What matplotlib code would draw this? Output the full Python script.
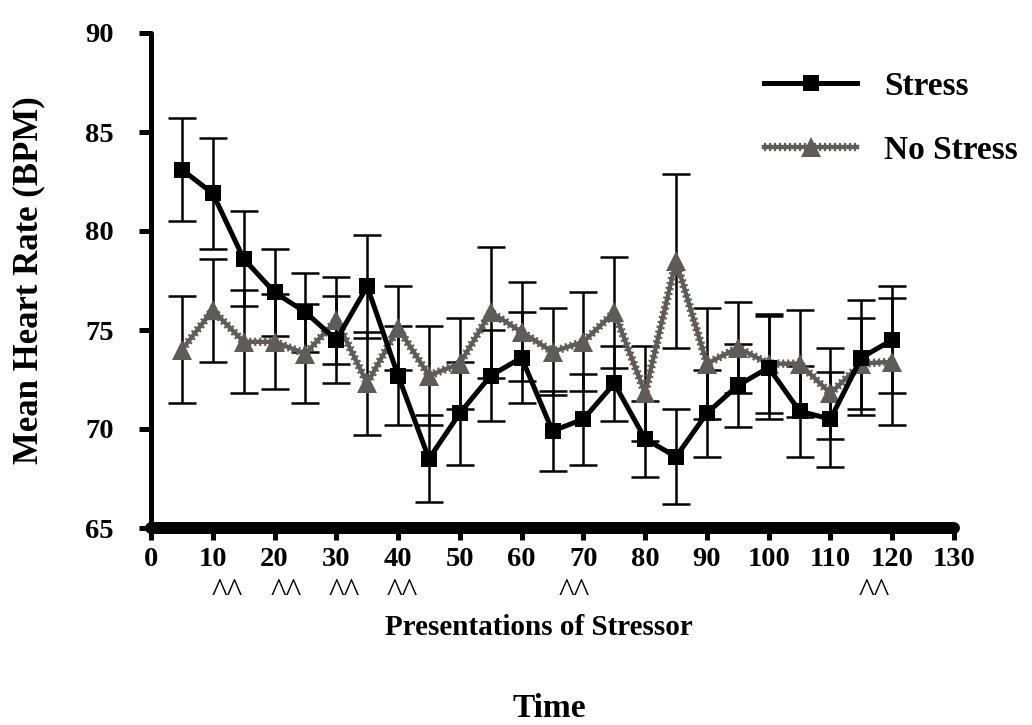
#!/usr/bin/env python
# -*- coding: utf-8 -*-

'''
    Mean heart rate across presentations of a stressor,
    Stress vs No Stress groups with standard error bars.
'''

import matplotlib
matplotlib.use("Agg")
import matplotlib.pyplot as plt
from matplotlib.legend_handler import HandlerTuple
from matplotlib import transforms

# ---------------------------------------------------------------------------
# Data
# ---------------------------------------------------------------------------
presentations = [5, 10, 15, 20, 25, 30, 35, 40, 45, 50, 55, 60,
                 65, 70, 75, 80, 85, 90, 95, 100, 105, 110, 115, 120]

stress = [83.1, 81.9, 78.6, 76.9, 75.9, 74.5, 77.2, 72.7, 68.5, 70.8, 72.7, 73.6,
          69.9, 70.5, 72.3, 69.5, 68.6, 70.8, 72.2, 73.1, 70.9, 70.5, 73.6, 74.5]
stress_se = [2.6, 2.8, 2.4, 2.2, 2.0, 2.2, 2.6, 2.5, 2.2, 2.6, 2.3, 2.3,
             2.0, 2.3, 1.9, 1.9, 2.4, 2.2, 2.1, 2.6, 2.3, 2.4, 2.9, 2.7]

no_stress = [74.0, 76.0, 74.4, 74.4, 73.8, 75.5, 72.3, 75.1, 72.7, 73.3, 75.9, 74.9,
             73.9, 74.4, 75.9, 71.8, 78.5, 73.3, 74.1, 73.3, 73.3, 71.8, 73.3, 73.4]
no_stress_se = [2.7, 2.6, 2.6, 2.4, 2.5, 2.2, 2.6, 2.1, 2.5, 2.3, 3.3, 2.5,
                2.2, 2.5, 2.8, 2.4, 4.4, 2.8, 2.3, 2.5, 2.7, 2.3, 2.3, 3.2]

x_ticks = list(range(0, 131, 10))
y_ticks = [65, 70, 75, 80, 85, 90]

# significance marks ("^^") under the x axis
caret_x = [12.3, 21.9, 31.2, 40.6, 68.5, 117.0]
caret_label = "^^"

GREY = "#5f5b5b"
FONT = "Liberation Serif"


def main():

    plt.rcParams['font.family'] = [FONT, 'DejaVu Serif']

    fig = plt.figure(figsize=(10.32, 7.25), dpi=100)
    ax = fig.add_axes([151 / 1032, 1 - 528 / 725, 803 / 1032, 495 / 725])

    # error bars (all black, below the lines)
    ax.errorbar(presentations, no_stress, yerr=no_stress_se, fmt='none',
                ecolor='black', elinewidth=1.8, capsize=10, capthick=1.8, zorder=2)
    ax.errorbar(presentations, stress, yerr=stress_se, fmt='none',
                ecolor='black', elinewidth=1.8, capsize=10, capthick=1.8, zorder=2)

    # No Stress: grey line with a ragged dotted edge
    ns_edge, = ax.plot(presentations, no_stress, color=GREY, lw=6,
                       linestyle=(0, (0.25, 0.35)), zorder=3)
    ns_line, = ax.plot(presentations, no_stress, color=GREY, lw=3.2,
                       marker='^', markersize=14, markeredgewidth=0, zorder=3)

    # Stress: black line with squares
    st_line, = ax.plot(presentations, stress, color='black', lw=3.6,
                       marker='s', markersize=11.5, markeredgewidth=0, zorder=4)

    ax.set_xlim(0, 130)
    ax.set_ylim(65, 90)
    ax.set_xticks(x_ticks)
    ax.set_yticks(y_ticks)

    # axes styling
    for side in ['top', 'right']:
        ax.spines[side].set_visible(False)
    ax.spines['left'].set_linewidth(3.6)
    ax.spines['bottom'].set_linewidth(8.6)
    ax.spines['left'].set_capstyle('round')
    ax.spines['bottom'].set_capstyle('round')

    ax.tick_params(axis='y', direction='out', length=9, width=3.6, pad=18,
                   labelsize=20.5)
    ax.tick_params(axis='x', direction='out', length=8.6, width=3.6, pad=5,
                   labelsize=20.5)
    for lbl in ax.get_xticklabels() + ax.get_yticklabels():
        lbl.set_fontweight('bold')

    # legend
    ax.legend([st_line, (ns_edge, ns_line)], ["Stress", "No Stress"],
              handler_map={tuple: HandlerTuple(ndivide=1)},
              loc='upper left', bbox_to_anchor=(764 / 1032, 1 - 71 / 725),
              bbox_transform=fig.transFigure, frameon=False,
              borderpad=0, borderaxespad=0, handlelength=2.8,
              handletextpad=0.8, labelspacing=0.98,
              prop={'family': FONT, 'weight': 'bold', 'size': 24})

    # "^^" marks under the axis
    trans = transforms.blended_transform_factory(ax.transData, fig.transFigure)
    for cx in caret_x:
        ax.text(cx, 1 - 601 / 725, caret_label, transform=trans,
                ha='center', va='baseline', fontsize=24, clip_on=False)

    # axis titles
    fig.text(29 / 1032, 1 - 280 / 725, "Mean Heart Rate (BPM)", rotation=90,
             ha='center', va='center', fontsize=25, fontweight='bold')
    fig.text(539 / 1032, 1 - 635 / 725, "Presentations of Stressor",
             ha='center', va='baseline', fontsize=21, fontweight='bold')
    fig.text(549 / 1032, 1 - 717 / 725, "Time",
             ha='center', va='baseline', fontsize=24, fontweight='bold')

    plt.savefig("out.png", dpi=100)


if __name__ == "__main__":

    main()
